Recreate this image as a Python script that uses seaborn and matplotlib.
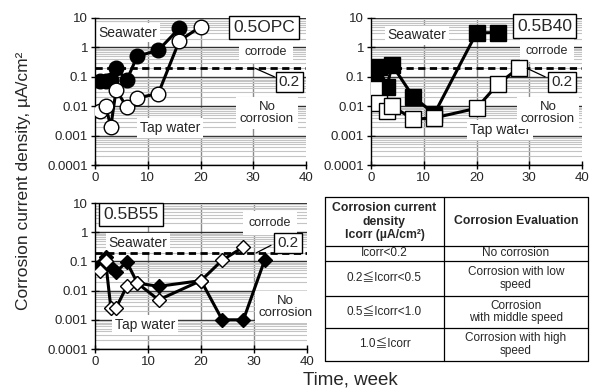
import numpy as np
import pandas as pd
import matplotlib
matplotlib.use("Agg")
import matplotlib.pyplot as plt
from matplotlib.ticker import LogLocator, NullFormatter
import seaborn as sns

sns.set_theme(style="ticks")
plt.rcParams["font.family"] = ["Liberation Sans", "Noto Sans CJK JP", "DejaVu Sans"]

# ---- data (current density in uA/cm2 vs. time in weeks) ----
opc_sea_weeks = [1, 2, 3, 4, 6, 8, 12, 16]
opc_sea = [0.07, 0.07, 0.08, 0.2, 0.075, 0.5, 0.8, 4.5]
opc_tap_weeks = [1, 2, 3, 4, 6, 8, 12, 16, 20]
opc_tap = [0.0068, 0.0105, 0.002, 0.036, 0.0095, 0.019, 0.027, 1.7, 5.0]

b40_sea_weeks = [0.5, 1.5, 3, 4, 8, 12, 20, 24]
b40_sea = [0.14, 0.22, 0.045, 0.25, 0.021, 0.0055, 3.1, 3.2]
b40_tap_weeks = [0.5, 1.5, 3, 4, 8, 12, 20, 24, 28]
b40_tap = [0.038, 0.013, 0.0068, 0.010, 0.0036, 0.004, 0.0085, 0.055, 0.2]

b55_sea_weeks = [1, 2, 3, 4, 6, 8, 12, 20, 24, 28, 32]
b55_sea = [0.075, 0.14, 0.065, 0.045, 0.095, 0.018, 0.014, 0.022, 0.001, 0.001, 0.11]
b55_tap_weeks = [1, 2, 3, 4, 6, 8, 12, 20, 24, 28]
b55_tap = [0.046, 0.1, 0.0025, 0.0026, 0.014, 0.018, 0.0048, 0.022, 0.11, 0.31]

threshold = 0.2
x_ticks = [0, 10, 20, 30, 40]
y_ticks = [0.0001, 0.001, 0.01, 0.1, 1, 10]
y_tick_labels = ["0.0001", "0.001", "0.01", "0.1", "1", "10"]

table_header = ["Corrosion current\ndensity\nIcorr (µA/cm²)", "Corrosion Evaluation"]
table_rows = [
    ("Icorr<0.2", "No corrosion"),
    ("0.2≦Icorr<0.5", "Corrosion with low\nspeed"),
    ("0.5≦Icorr<1.0", "Corrosion\nwith middle speed"),
    ("1.0≦Icorr", "Corrosion with high\nspeed"),
]

W, H = 597, 390
fig = plt.figure(figsize=(W / 100, H / 100), dpi=100)


def px_axes(x0, y0, x1, y1):
    return fig.add_axes([x0 / W, (H - y1) / H, (x1 - x0) / W, (y1 - y0) / H])


def frame(ax):
    ax.set_yscale("log")
    ax.set_xlim(0, 40)
    ax.set_ylim(1e-4, 10)
    ax.set_xticks(x_ticks)
    ax.set_yticks(y_ticks)
    ax.set_yticklabels(y_tick_labels)
    ax.yaxis.set_minor_locator(LogLocator(base=10, subs=np.arange(2, 10)))
    ax.yaxis.set_minor_formatter(NullFormatter())
    ax.tick_params(which="major", direction="inout", length=6, width=1,
                   color="black", labelsize=9.5, pad=2)
    ax.tick_params(which="minor", length=0)
    ax.grid(False)
    ax.yaxis.grid(True, which="minor", color="#c4c4c4", lw=0.8, zorder=0)
    ax.yaxis.grid(True, which="major", color="#303030", lw=1.0, zorder=0)
    for xv in x_ticks[1:-1]:
        ax.axvline(xv, color="#8a8a8a", lw=1.0, zorder=0.5)
    for s in ("top", "right"):
        ax.spines[s].set_visible(False)
    for s in ("left", "bottom"):
        ax.spines[s].set_color("black")
        ax.spines[s].set_linewidth(1.0)
    ax.axhline(threshold, color="black", lw=2.0, ls=(0, (2.6, 1.6)), zorder=3)


def series(ax, weeks, vals, marker, ms, face):
    df = pd.DataFrame({"week": weeks, "icorr": vals})
    sns.lineplot(data=df, x="week", y="icorr", ax=ax, color="black", lw=2.2,
                 marker=marker, ms=ms, mfc=face, mec="black", mew=1.0,
                 estimator=None, sort=False, legend=False, zorder=4)
    ax.set_xlabel("")
    ax.set_ylabel("")


def soft_label(ax, x, y, s, size, pad=0.2, ha="center"):
    ax.text(x, y, s, transform=ax.transAxes, ha=ha, va="center", fontsize=size,
            linespacing=1.0, zorder=2,
            bbox=dict(boxstyle=f"square,pad={pad}", fc="white", ec="none"))


def boxed_label(ax, x, y, s, size, pad=0.2):
    ax.text(x, y, s, transform=ax.transAxes, ha="center", va="center",
            fontsize=size, zorder=6, clip_on=False,
            bbox=dict(boxstyle=f"square,pad={pad}", fc="white", ec="black", lw=1.0))


def leader(ax, p0, p1):
    ax.plot([p0[0], p1[0]], [p0[1], p1[1]], transform=ax.transAxes,
            color="black", lw=0.9, zorder=5, clip_on=False)


# 0.5OPC
ax1 = px_axes(95, 18, 306, 165)
frame(ax1)
series(ax1, opc_sea_weeks, opc_sea, "o", 10.5, "black")
series(ax1, opc_tap_weeks, opc_tap, "o", 10.5, "white")
soft_label(ax1, 0.156, 0.90, "Seawater", 10)
soft_label(ax1, 0.355, 0.25, "Tap water", 10)
soft_label(ax1, 0.81, 0.772, "corrode", 9, pad=0.45)
soft_label(ax1, 0.815, 0.354, "No\ncorrosion", 9.5, pad=0.3)
boxed_label(ax1, 0.80, 0.935, "0.5OPC", 12.5, pad=0.25)
boxed_label(ax1, 0.92, 0.566, "0.2", 11, pad=0.2)
leader(ax1, (0.76, 0.657), (0.85, 0.60))

# 0.5B40
ax2 = px_axes(371, 18, 582, 165)
frame(ax2)
series(ax2, b40_sea_weeks, b40_sea, "s", 11, "black")
series(ax2, b40_tap_weeks, b40_tap, "s", 11, "white")
soft_label(ax2, 0.218, 0.881, "Seawater", 10)
soft_label(ax2, 0.611, 0.239, "Tap water", 10)
soft_label(ax2, 0.834, 0.777, "corrode", 9, pad=0.45)
soft_label(ax2, 0.839, 0.354, "No\ncorrosion", 9.5, pad=0.3)
boxed_label(ax2, 0.822, 0.944, "0.5B40", 12.5, pad=0.25)
boxed_label(ax2, 0.905, 0.566, "0.2", 11, pad=0.2)
leader(ax2, (0.74, 0.657), (0.825, 0.60))

# 0.5B55
ax3 = px_axes(95, 203, 307, 349)
frame(ax3)
series(ax3, b55_sea_weeks, b55_sea, "D", 7.5, "black")
series(ax3, b55_tap_weeks, b55_tap, "D", 7.5, "white")
soft_label(ax3, 0.203, 0.728, "Seawater", 10)
soft_label(ax3, 0.236, 0.164, "Tap water", 10)
soft_label(ax3, 0.825, 0.863, "corrode", 9, pad=0.45)
soft_label(ax3, 0.90, 0.29, "No\ncorrosion", 9.5, pad=0.3)
boxed_label(ax3, 0.17, 0.921, "0.5B55", 12.5, pad=0.25)
boxed_label(ax3, 0.91, 0.723, "0.2", 11, pad=0.2)
leader(ax3, (0.76, 0.658), (0.83, 0.71))

# shared axis titles
fig.text(24 / W, 1 - 181 / H, "Corrosion current density, µA/cm²", rotation=90,
         ha="center", va="center", fontsize=12.5)
fig.text(350 / W, 1 - 380 / H, "Time, week", ha="center", va="center", fontsize=13.5)

# evaluation table, laid out in pixel units
tx0, ty0, tx1, ty1 = 325, 197, 588, 361
axt = px_axes(tx0, ty0, tx1, ty1)
axt.set_xlim(0, tx1 - tx0)
axt.set_ylim(ty1 - ty0, 0)
axt.axis("off")
tw, th = tx1 - tx0, ty1 - ty0
col_split = 119
row_edges = [0, 49, 64, 99, 131, th]
for yv in row_edges:
    axt.plot([0, tw], [yv, yv], color="black", lw=0.9, clip_on=False)
for xv in (0, col_split, tw):
    axt.plot([xv, xv], [0, th], color="black", lw=0.9, clip_on=False)
c0 = col_split / 2
c1 = (col_split + tw) / 2
hy = row_edges[1] / 2
axt.text(c0, hy, table_header[0], ha="center", va="center", fontsize=8.8,
         fontweight="bold", linespacing=1.2)
axt.text(c1, hy, table_header[1], ha="center", va="center", fontsize=8.8,
         fontweight="bold")
for i, (left, right) in enumerate(table_rows):
    yc = (row_edges[i + 1] + row_edges[i + 2]) / 2
    axt.text(c0, yc, left, ha="center", va="center", fontsize=8.5)
    axt.text(c1, yc, right, ha="center", va="center", fontsize=8.5, linespacing=1.1)

fig.savefig("out.png", dpi=100)
